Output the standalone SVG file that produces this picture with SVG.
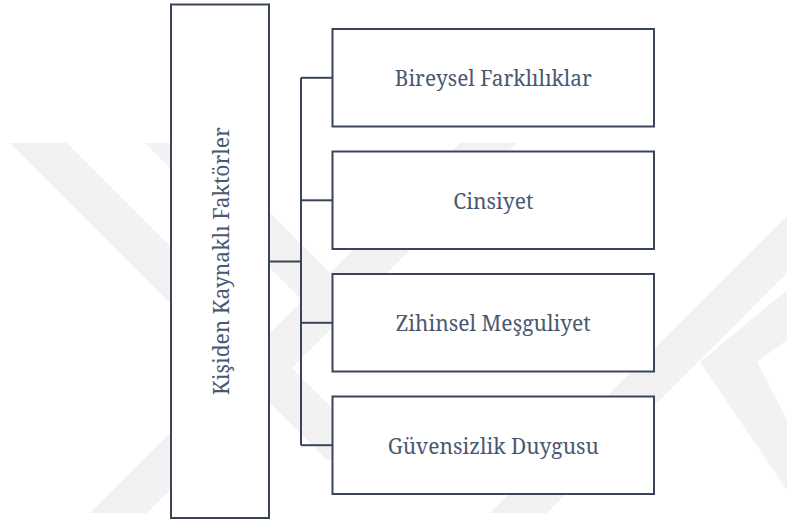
<svg xmlns="http://www.w3.org/2000/svg" width="787" height="523" viewBox="0 0 787 523">
  <style>
    .wm { fill: #f2f2f2; }
    .box { fill: #ffffff; stroke: #3a4657; stroke-width: 2; }
    .conn { fill: none; stroke: #3a4657; stroke-width: 2; }
    .lbl { font-family: "Noto Serif", "DejaVu Serif", serif; font-size: 21.5px; fill: #4a5970; text-anchor: middle; }
  </style>
  <rect x="0" y="0" width="787" height="523" fill="#ffffff"/>
  <g id="watermark">
    <polygon class="wm" points="10,143 67,143 384,460 327,460"/>
    <polygon class="wm" points="145,143 200,143 390,333 335,333"/>
    <polygon class="wm" points="90,513 147,513 517,143 460,143"/>
    <polygon class="wm" points="490,513 547,513 787,273 787,216"/>
    <polygon class="wm" points="787,290 700,362 787,490 787,420 757,362 787,340"/>
  </g>
  <g id="connectors">
    <path class="conn" d="M269,261.5 H301"/>
    <path class="conn" d="M301,77.8 V445.2"/>
    <path class="conn" d="M301,77.8 H332.5"/>
    <path class="conn" d="M301,200.3 H332.5"/>
    <path class="conn" d="M301,322.8 H332.5"/>
    <path class="conn" d="M301,445.2 H332.5"/>
  </g>
  <g id="node-root">
    <rect class="box" x="171" y="4.5" width="98" height="513.5"/>
    <text class="lbl" transform="translate(229,261) rotate(-90)" textLength="268" lengthAdjust="spacingAndGlyphs">Kişiden Kaynaklı Faktörler</text>
  </g>
  <g id="node-bireysel">
    <rect class="box" x="332.5" y="29" width="321.5" height="97.5"/>
    <text class="lbl" x="493.3" y="86" textLength="197" lengthAdjust="spacingAndGlyphs">Bireysel Farklılıklar</text>
  </g>
  <g id="node-cinsiyet">
    <rect class="box" x="332.5" y="151.5" width="321.5" height="97.5"/>
    <text class="lbl" x="493.3" y="208.5" textLength="80" lengthAdjust="spacingAndGlyphs">Cinsiyet</text>
  </g>
  <g id="node-zihinsel">
    <rect class="box" x="332.5" y="274" width="321.5" height="97.5"/>
    <text class="lbl" x="493.3" y="330.5" textLength="195" lengthAdjust="spacingAndGlyphs">Zihinsel Meşguliyet</text>
  </g>
  <g id="node-guvensizlik">
    <rect class="box" x="332.5" y="396.5" width="321.5" height="97.5"/>
    <text class="lbl" x="493.3" y="453.5" textLength="211" lengthAdjust="spacingAndGlyphs">Güvensizlik Duygusu</text>
  </g>
</svg>
